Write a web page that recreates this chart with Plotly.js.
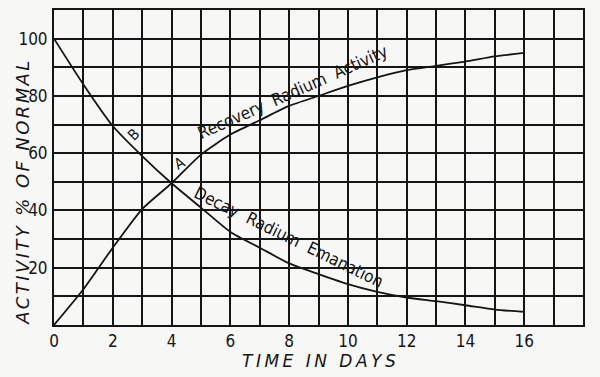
<!DOCTYPE html>
<html>
<head>
<meta charset="utf-8">
<script src="https://cdn.plot.ly/plotly-3.0.1.min.js"></script>
<style>
  html, body { margin: 0; padding: 0; background: #f7f7f5; }
  #chart { width: 600px; height: 377px; }
  #chart g.annotation[data-index="0"] text { letter-spacing: 2.4px; }
  #chart g.annotation[data-index="1"] text { letter-spacing: 3.5px; }
</style>
</head>
<body>
<div id="chart"></div>
<script>
// Time in days
const days = [0, 1, 2, 3, 4, 5, 6, 7, 8, 9, 10, 11, 12, 13, 14, 15, 16];
// Curve A: Recovery Radium Activity (% of normal)
const recovery = [0, 12.5, 27, 40.5, 49.5, 59.5, 66.5, 71.5, 76.5, 80, 83.5, 86.5, 89, 90.5, 92, 93.8, 95];
// Curve B: Decay Radium Emanation (% of normal)
const decay = [100, 84, 69.5, 59, 49.5, 41, 32.5, 27, 21.5, 17.8, 14.3, 11.6, 9.6, 8.3, 6.9, 5.4, 4.6];

// Axis ticks
const xTickVals = [0, 1, 2, 3, 4, 5, 6, 7, 8, 9, 10, 11, 12, 13, 14, 15, 16, 17, 18];
const xTickText = ['0', '', '2', '', '4', '', '6', '', '8', '', '10', '', '12', '', '14', '', '16', '', ''];
const yTickVals = [0, 10, 20, 30, 40, 50, 60, 70, 80, 90, 100, 110];
const yTickText = ['', '', '20', '', '40', '', '60', '', '80', '', '100', ''];

const handFont = '"DejaVu Sans Condensed", "DejaVu Sans", sans-serif';
const ink = '#151515';

const traces = [
  { x: days, y: recovery, mode: 'lines', line: { color: ink, width: 1.8, shape: 'spline', smoothing: 0.6 }, hoverinfo: 'skip', showlegend: false },
  { x: days, y: decay, mode: 'lines', line: { color: ink, width: 1.8, shape: 'spline', smoothing: 0.6 }, hoverinfo: 'skip', showlegend: false }
];

const axisCommon = {
  showgrid: true, gridcolor: ink, gridwidth: 2,
  showline: true, linecolor: ink, linewidth: 2, mirror: true,
  zeroline: false, ticks: '', fixedrange: true,
  tickfont: { family: handFont, size: 17, color: ink }
};

const layout = {
  width: 600, height: 377,
  margin: { l: 54, r: 17, t: 10, b: 52 },
  paper_bgcolor: '#f7f7f5', plot_bgcolor: '#f7f7f5',
  xaxis: Object.assign({}, axisCommon, {
    range: [0, 18], tickmode: 'array', tickvals: xTickVals, ticktext: xTickText, ticklabelstandoff: 0
  }),
  yaxis: Object.assign({}, axisCommon, {
    range: [0, 110], tickmode: 'array', tickvals: yTickVals, ticktext: yTickText, ticklabelstandoff: 1
  }),
  annotations: [
    { xref: 'paper', yref: 'paper', x: -0.061, y: 0.425, xanchor: 'center', yanchor: 'middle',
      text: 'ACTIVITY % OF NORMAL', textangle: -90,
      showarrow: false, font: { family: 'DejaVu Sans', size: 18, style: 'italic', color: ink } },
    { xref: 'paper', yref: 'paper', x: 0.503, y: -0.114, xanchor: 'center', yanchor: 'middle',
      text: 'TIME IN DAYS',
      showarrow: false, font: { family: 'DejaVu Sans', size: 17, style: 'italic', color: ink } },
    { x: 8.12, y: 81.2, text: 'Recovery  Radium  Activity', textangle: -24, showarrow: false,
      font: { family: handFont, size: 17, color: ink } },
    { x: 8.0, y: 30.8, text: 'Decay  Radium  Emanation', textangle: 26, showarrow: false,
      font: { family: handFont, size: 17, color: ink } },
    { x: 2.7, y: 66.5, text: 'B', textangle: -45, showarrow: false,
      font: { family: handFont, size: 15, color: ink } },
    { x: 4.3, y: 56.5, text: 'A', textangle: -30, showarrow: false,
      font: { family: handFont, size: 15, color: ink } }
  ]
};

Plotly.newPlot('chart', traces, layout, { staticPlot: true, displayModeBar: false });
</script>
</body>
</html>
